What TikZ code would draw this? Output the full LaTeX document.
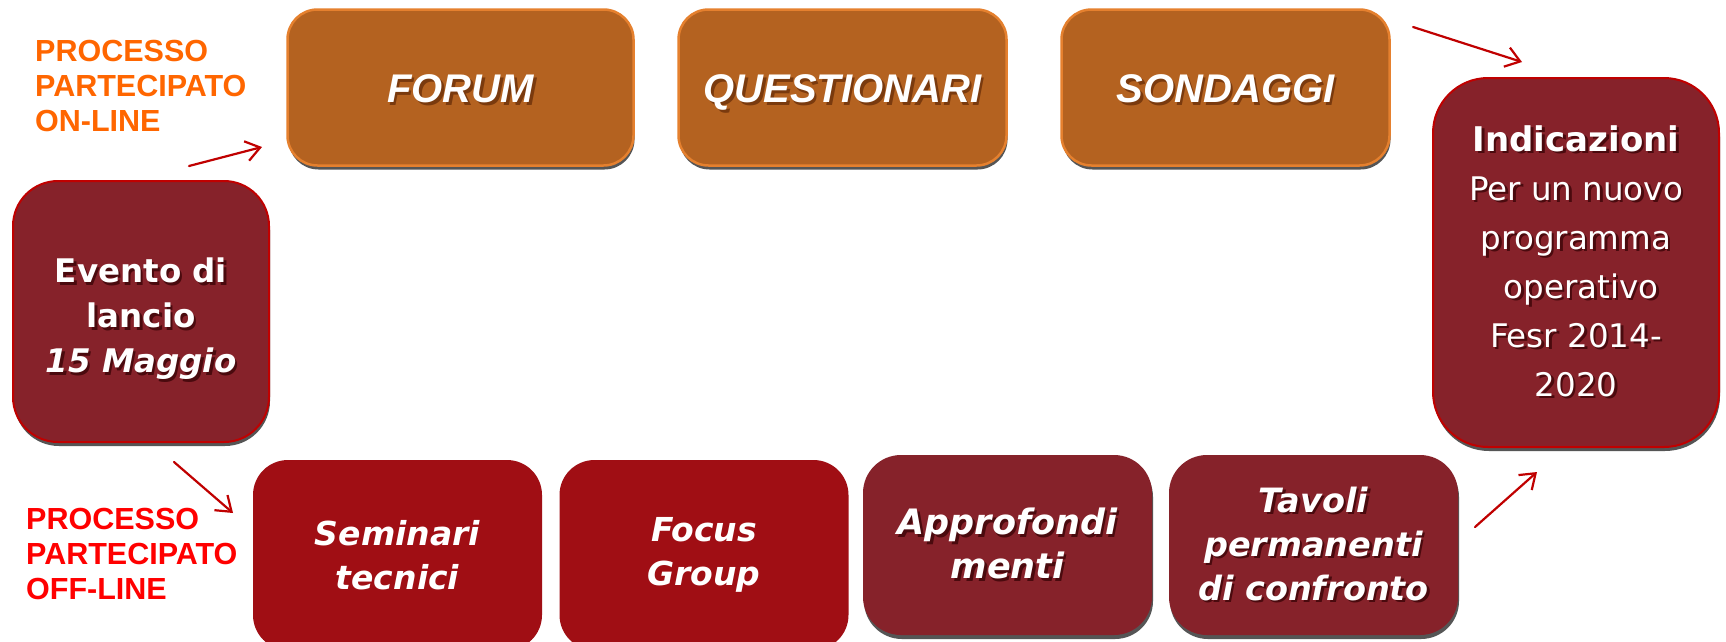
\documentclass[tikz,border=0pt]{standalone}
\usepackage{fontspec}
\newfontfamily\arialfont{Liberation Sans}
\newfontfamily\dvfont{DejaVu Sans}
\usepackage{tikz}
\usetikzlibrary{arrows.meta}
\usetikzlibrary{shadows}

\definecolor{boxorange}{HTML}{B46220}
\definecolor{edgeorange}{HTML}{E5802E}
\definecolor{boxwine}{HTML}{86222A}
\definecolor{edgewine}{HTML}{C00000}
\definecolor{boxred}{HTML}{A00E14}
\definecolor{arrowred}{HTML}{C00000}
\definecolor{labelorange}{HTML}{FF6600}
\definecolor{labelred}{HTML}{FF0000}
\definecolor{shadowgray}{HTML}{555555}
\definecolor{txtbrown}{HTML}{7A3A0E}
\definecolor{txtwine}{HTML}{4A0A0E}

\newcommand\shtxt[2]{\makebox[0pt][l]{\hspace{2.5pt}\raisebox{-2.5pt}{\color{#1}#2}}{#2}}
\newcommand\shb[1]{\shtxt{txtbrown}{#1}}
\newcommand\shw[1]{\shtxt{txtwine}{#1}}

\tikzset{>=Straight Barb,
  boxshadow/.style={drop shadow={shadow xshift=1pt,shadow yshift=-4pt,fill=shadowgray,opacity=1}},
  onlinebox/.style={rounded corners=30pt, fill=boxorange, draw=edgeorange, line width=2.5pt,
    minimum height=156pt, text=white, align=center, boxshadow,
    text height=30pt, text depth=0pt,
    font=\arialfont\bfseries\itshape\fontsize{40}{48}\selectfont},
  winebox/.style={rounded corners=#1, fill=boxwine, text=white, align=center, boxshadow},
  offlinebox/.style={rounded corners=35pt, fill=boxred, text=white, align=center,
    minimum width=289pt, minimum height=190pt,
    font=\dvfont\bfseries\itshape\fontsize{33}{44}\selectfont},
  proclabel/.style={anchor=north west, inner sep=0pt, align=left,
    font=\arialfont\bfseries\fontsize{30.5}{35}\selectfont},
  flow/.style={draw=arrowred, line width=2.2pt, -{Straight Barb[length=14pt,width=20pt]}}
}

\begin{document}
\begin{tikzpicture}[x=1pt, y=-1pt, line cap=round]

    \useasboundingbox (0,0) rectangle (1726,641);
    \fill[white] (0,0) rectangle (1726,641);

    % on-line row
    \node[onlinebox, minimum width=346pt] (forum) at (460.5,87.5) {\shb{FORUM}};
    \node[onlinebox, minimum width=328pt] (quest) at (842.5,87.5) {\shb{QUESTIONARI}};
    \node[onlinebox, minimum width=328pt] (sond) at (1225.5,87.5) {\shb{SONDAGGI}};

    % start and end
    \node[winebox=45pt, draw=edgewine, line width=2pt, minimum width=256pt, minimum height=261pt,
      font=\dvfont\bfseries\fontsize{32.5}{45}\selectfont] (evento) at (141,311.5)
      {\rule{0pt}{42pt}\shw{Evento di}\\\shw{lancio}\\\shw{\itshape 15 Maggio}};
    \node[winebox=55pt, draw=edgewine, line width=2pt, minimum width=286pt, minimum height=369pt,
      font=\dvfont\fontsize{32.5}{49}\selectfont] (indic) at (1576,262.5)
      {\shw{\bfseries\fontsize{34}{49}\selectfont Indicazioni}\\\shw{Per un nuovo}\\\shw{programma}\\
       \shw{\ operativo}\\\shw{Fesr 2014-}\\\shw{2020}};

    % off-line row
    \node[offlinebox] (semin) at (397.5,555) {Seminari\\tecnici};
    \node[offlinebox] (focus) at (704,555) {Focus\\Group};
    \node[winebox=38pt, minimum width=289pt, minimum height=180pt,
      font=\dvfont\bfseries\itshape\fontsize{35}{44}\selectfont] (approf) at (1007.5,545)
      {\shw{Approfondi}\\\shw{menti}};
    \node[winebox=38pt, minimum width=289pt, minimum height=180pt,
      font=\dvfont\bfseries\itshape\fontsize{33.5}{44}\selectfont] (tavoli) at (1313.5,545)
      {\shw{Tavoli}\\\shw{permanenti}\\\shw{di confronto}};

    \node[proclabel, text=labelorange] (online) at (35,40) {PROCESSO\\PARTECIPATO\\ON-LINE};
    \node[proclabel, text=labelred] (offline) at (26,508) {PROCESSO\\PARTECIPATO\\OFF-LINE};

    % arrows
    \coordinate (onA) at (189,166);   \coordinate (onB) at (262,147);
    \coordinate (offA) at (174,462);  \coordinate (offB) at (233,513);
    \coordinate (outA) at (1413,27);  \coordinate (outB) at (1522,62);
    \coordinate (inA) at (1475,527);  \coordinate (inB) at (1537,472);

    \draw[flow] (onA) -- (onB);
    \draw[flow] (offA) -- (offB);
    \draw[flow] (outA) -- (outB);
    \draw[flow] (inA) -- (inB);

\end{tikzpicture}
\end{document}
